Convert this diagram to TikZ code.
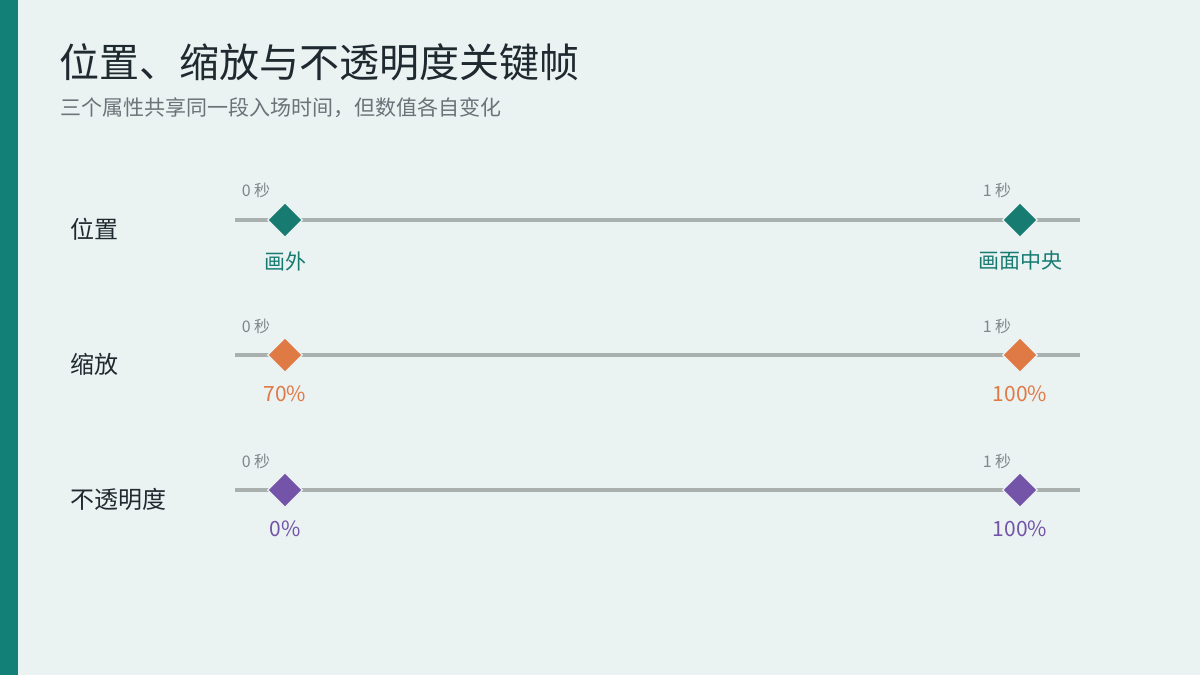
\documentclass[tikz,border=0pt]{standalone}
\usepackage{fontspec}
\usetikzlibrary{shapes.geometric}
\setmainfont{Noto Sans CJK SC}
\definecolor{pagebg}{HTML}{EAF2F2}
\definecolor{sidebar}{HTML}{138078}
\definecolor{titleink}{HTML}{1F2A30}
\definecolor{subink}{HTML}{6B7378}
\definecolor{timeink}{HTML}{80878A}
\definecolor{trackgray}{HTML}{AAB0AE}
\definecolor{posteal}{HTML}{177B72}
\definecolor{scaleorange}{HTML}{E07A45}
\definecolor{fadepurple}{HTML}{7354A8}
\begin{document}
\begin{tikzpicture}[x=1pt,y=-1pt,
  track/.style={draw=trackgray,line width=4.5pt},
  keyframe/.style={diamond,draw=pagebg,line width=1.2pt,inner sep=0pt,
    minimum width=35pt,minimum height=35pt},
  rowlabel/.style={anchor=west,inner sep=0pt,text=titleink,font=\fontsize{24}{28}\selectfont},
  timelabel/.style={inner sep=0pt,text=timeink,font=\fontsize{16}{19}\selectfont},
  valuelabel/.style={inner sep=0pt,font=\fontsize{21}{25}\selectfont}]
\useasboundingbox (0,0) rectangle (1200,675);
\fill[pagebg] (0,0) rectangle (1200,675);
\fill[sidebar] (0,0) rectangle (18,675);
% title
\node[anchor=west,inner sep=0pt,text=titleink,font=\fontsize{40}{46}\selectfont] (title) at (59,62) {位置、缩放与不透明度关键帧};
\node[anchor=west,inner sep=0pt,text=subink,font=\fontsize{21}{25}\selectfont] (subtitle) at (60,108) {三个属性共享同一段入场时间，但数值各自变化};
% position row
\coordinate (posstart) at (235,220);
\coordinate (posend) at (1080,220);
\draw[track] (posstart) -- (posend);
\node[rowlabel] (poslabel) at (70,229) {位置};
\node[keyframe,fill=posteal] (posa) at (285,220) {};
\node[keyframe,fill=posteal] (posb) at (1020,220) {};
\node[timelabel] (posta) at (256,190) {0 秒};
\node[timelabel] (postb) at (997,190) {1 秒};
\node[valuelabel,text=posteal] (posva) at (285,261) {画外};
\node[valuelabel,text=posteal] (posvb) at (1020,261) {画面中央};
% scale row
\coordinate (scalestart) at (235,355);
\coordinate (scaleend) at (1080,355);
\draw[track] (scalestart) -- (scaleend);
\node[rowlabel] (scalelabel) at (70,364) {缩放};
\node[keyframe,fill=scaleorange] (scalea) at (285,355) {};
\node[keyframe,fill=scaleorange] (scaleb) at (1020,355) {};
\node[timelabel] (scaleta) at (256,326) {0 秒};
\node[timelabel] (scaletb) at (997,326) {1 秒};
\node[valuelabel,text=scaleorange] (scaleva) at (285,394) {70\%};
\node[valuelabel,text=scaleorange] (scalevb) at (1020,394) {100\%};
% opacity row
\coordinate (fadestart) at (235,490);
\coordinate (fadeend) at (1080,490);
\draw[track] (fadestart) -- (fadeend);
\node[rowlabel] (fadelabel) at (70,499) {不透明度};
\node[keyframe,fill=fadepurple] (fadea) at (285,490) {};
\node[keyframe,fill=fadepurple] (fadeb) at (1020,490) {};
\node[timelabel] (fadeta) at (256,461) {0 秒};
\node[timelabel] (fadetb) at (997,461) {1 秒};
\node[valuelabel,text=fadepurple] (fadeva) at (285,529) {0\%};
\node[valuelabel,text=fadepurple] (fadevb) at (1020,529) {100\%};
\end{tikzpicture}
\end{document}
